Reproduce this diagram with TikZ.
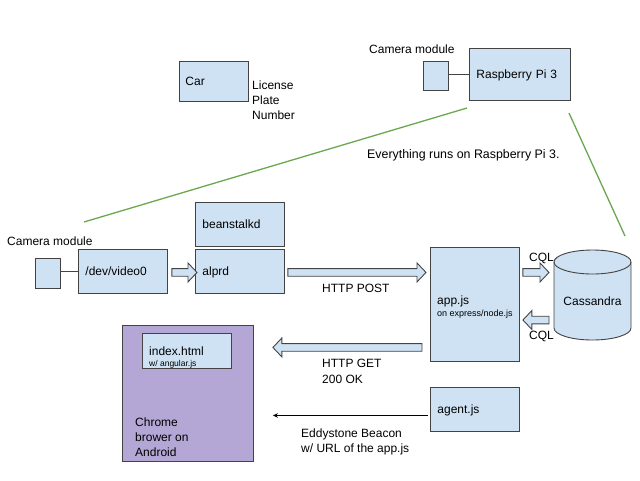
\documentclass[tikz,border=0pt]{standalone}
\usepackage{fontspec}
\setmainfont{Liberation Sans}
\usetikzlibrary{calc,arrows.meta}
\definecolor{boxfill}{HTML}{CFE2F3}
\definecolor{boxline}{HTML}{434343}
\definecolor{purp}{HTML}{B4A7D6}
\definecolor{grn}{HTML}{6AA84F}
\newcommand{\rblock}[2]{%
 \path[barrow] let \p1=(#1), \p2=(#2) in (\x1,\y1+3.8pt) -- (\x2-9pt,\y1+3.8pt) -- (\x2-9pt,\y1+9.5pt) -- (\x2,\y1) -- (\x2-9pt,\y1-9.5pt) -- (\x2-9pt,\y1-3.8pt) -- (\x1,\y1-3.8pt) -- cycle;}
\newcommand{\lblock}[2]{%
 \path[barrow] let \p1=(#1), \p2=(#2) in (\x1,\y1+3.8pt) -- (\x2+9pt,\y1+3.8pt) -- (\x2+9pt,\y1+9.5pt) -- (\x2,\y1) -- (\x2+9pt,\y1-9.5pt) -- (\x2+9pt,\y1-3.8pt) -- (\x1,\y1-3.8pt) -- cycle;}
\tikzset{
 boxnode/.style={draw=boxline, fill=boxfill, line width=0.9pt, anchor=north west, inner xsep=7pt, inner ysep=0pt, align=left, font=\fontsize{12}{14}\selectfont, text height=8.6pt, text depth=0pt},
 lbl/.style={inner sep=0pt, align=left, anchor=base west, font=\fontsize{12}{15}\selectfont},
 barrow/.style={draw=boxline, fill=boxfill, line width=0.9pt, line join=miter},
 greenline/.style={draw=grn, line width=1.3pt},
 wire/.style={draw=black, line width=0.9pt},
}
\begin{document}
\begin{tikzpicture}[x=1pt,y=-1pt]
\useasboundingbox (0,0) rectangle (640,480);
% top area
\node[boxnode, minimum width=69pt, minimum height=40pt, inner xsep=6pt, text width=57pt] (car) at (179,61) {Car};
\node[lbl] (plate) at (252,119) {License\\Plate\\Number};
\node[lbl] (cam1lbl) at (369,53) {Camera module};
\node[boxnode, minimum width=25pt, minimum height=29pt] (cam1) at (423,61) {};
\node[boxnode, minimum width=101pt, minimum height=52pt, text width=87pt] (rpi) at (469,48) {Raspberry Pi 3};
\draw[wire, draw=boxline] (cam1.east |- rpi.west) -- (rpi.west);
\coordinate (g1a) at (467,108);
\coordinate (g1b) at (84,222);
\coordinate (g2a) at (569,113);
\coordinate (g2b) at (625,236);
\draw[greenline] (g1a) -- (g1b);
\draw[greenline] (g2a) -- (g2b);
\node[lbl, font=\fontsize{12.4}{15}\selectfont] (every) at (367,158) {Everything runs on Raspberry Pi 3.};
% pipeline
\node[lbl] (cam2lbl) at (7,245) {Camera module};
\node[boxnode, minimum width=25pt, minimum height=30pt] (cam2) at (35,258) {};
\node[boxnode, minimum width=89pt, minimum height=44pt, text width=75pt] (video) at (78,249) {/dev/video0};
\draw[wire, draw=boxline] (cam2.east |- video.west) -- (video.west);
\node[boxnode, minimum width=89pt, minimum height=44pt, text width=75pt] (bean) at (195,202) {beanstalkd};
\node[boxnode, minimum width=89pt, minimum height=44pt, text width=75pt] (alprd) at (195,249) {alprd};
\node[boxnode, minimum width=89pt, minimum height=114pt] (app) at (430,247) {};
\node[lbl, anchor=north west] (apptxt) at (437,296) {app.js\\[-3pt]{\fontsize{9}{11}\selectfont on express/node.js}};
\rblock{$(video.east)+(4,1)$}{$(alprd.west)+(2,1)$}
\rblock{$(alprd.east)+(3,1)$}{$(app.west |- alprd.east)+(-4,1)$}
\node[lbl] (postlbl) at (322,292) {HTTP POST};
% cassandra
\coordinate (cassL) at (554,301);
\path[barrow] (554,262) -- (554,328) arc(180:360:38.5pt and 12pt) -- (631,262) arc(0:180:38.5pt and 12pt) -- cycle;
\draw[draw=boxline, line width=0.9pt] (554,262) arc(180:360:38.5pt and 12pt);
\node[font=\fontsize{12}{14}\selectfont, inner sep=0pt] (cass) at (592.5,301) {Cassandra};
\rblock{$(app.east)+(3,-32)$}{$(cassL)+(-5,0)$}
\lblock{$(cassL)+(-5,19)$}{$(app.east)+(3,0)$}
\node[lbl] (cql1) at (529,261) {CQL};
\node[lbl] (cql2) at (529,339) {CQL};
% browser
\node[draw=boxline, fill=purp, line width=0.9pt, anchor=north west, minimum width=131pt, minimum height=136pt, inner sep=0pt] (chrome) at (122,325) {};
\node[lbl] (chrometxt) at (135,456) {Chrome\\brower on\\Android};
\node[draw=boxline, fill=boxfill, line width=0.9pt, anchor=north west, minimum width=89pt, minimum height=35pt, inner sep=0pt] (index) at (142,333) {};
\node[lbl] (indextxt) at (149,366) {index.html\\[-4pt]{\fontsize{8.5}{10}\selectfont w/ angular.js}};
\lblock{$(app.west)+(-8,43)$}{$(chrome.east)+(19,0)$}
\node[lbl] (getlbl) at (322,383) {HTTP GET\\[1pt]200 OK};
\node[boxnode, minimum width=89pt, minimum height=44pt, text width=75pt] (agent) at (430,387) {agent.js};
\draw[wire, -{Stealth[length=5pt,width=4.5pt]}] ($(agent.west)+(-2,6)$) -- ($(chrome.east |- agent.west)+(19,6)$);
\node[lbl] (eddy) at (301,452) {Eddystone Beacon\\w/ URL of the app.js};
\end{tikzpicture}
\end{document}
